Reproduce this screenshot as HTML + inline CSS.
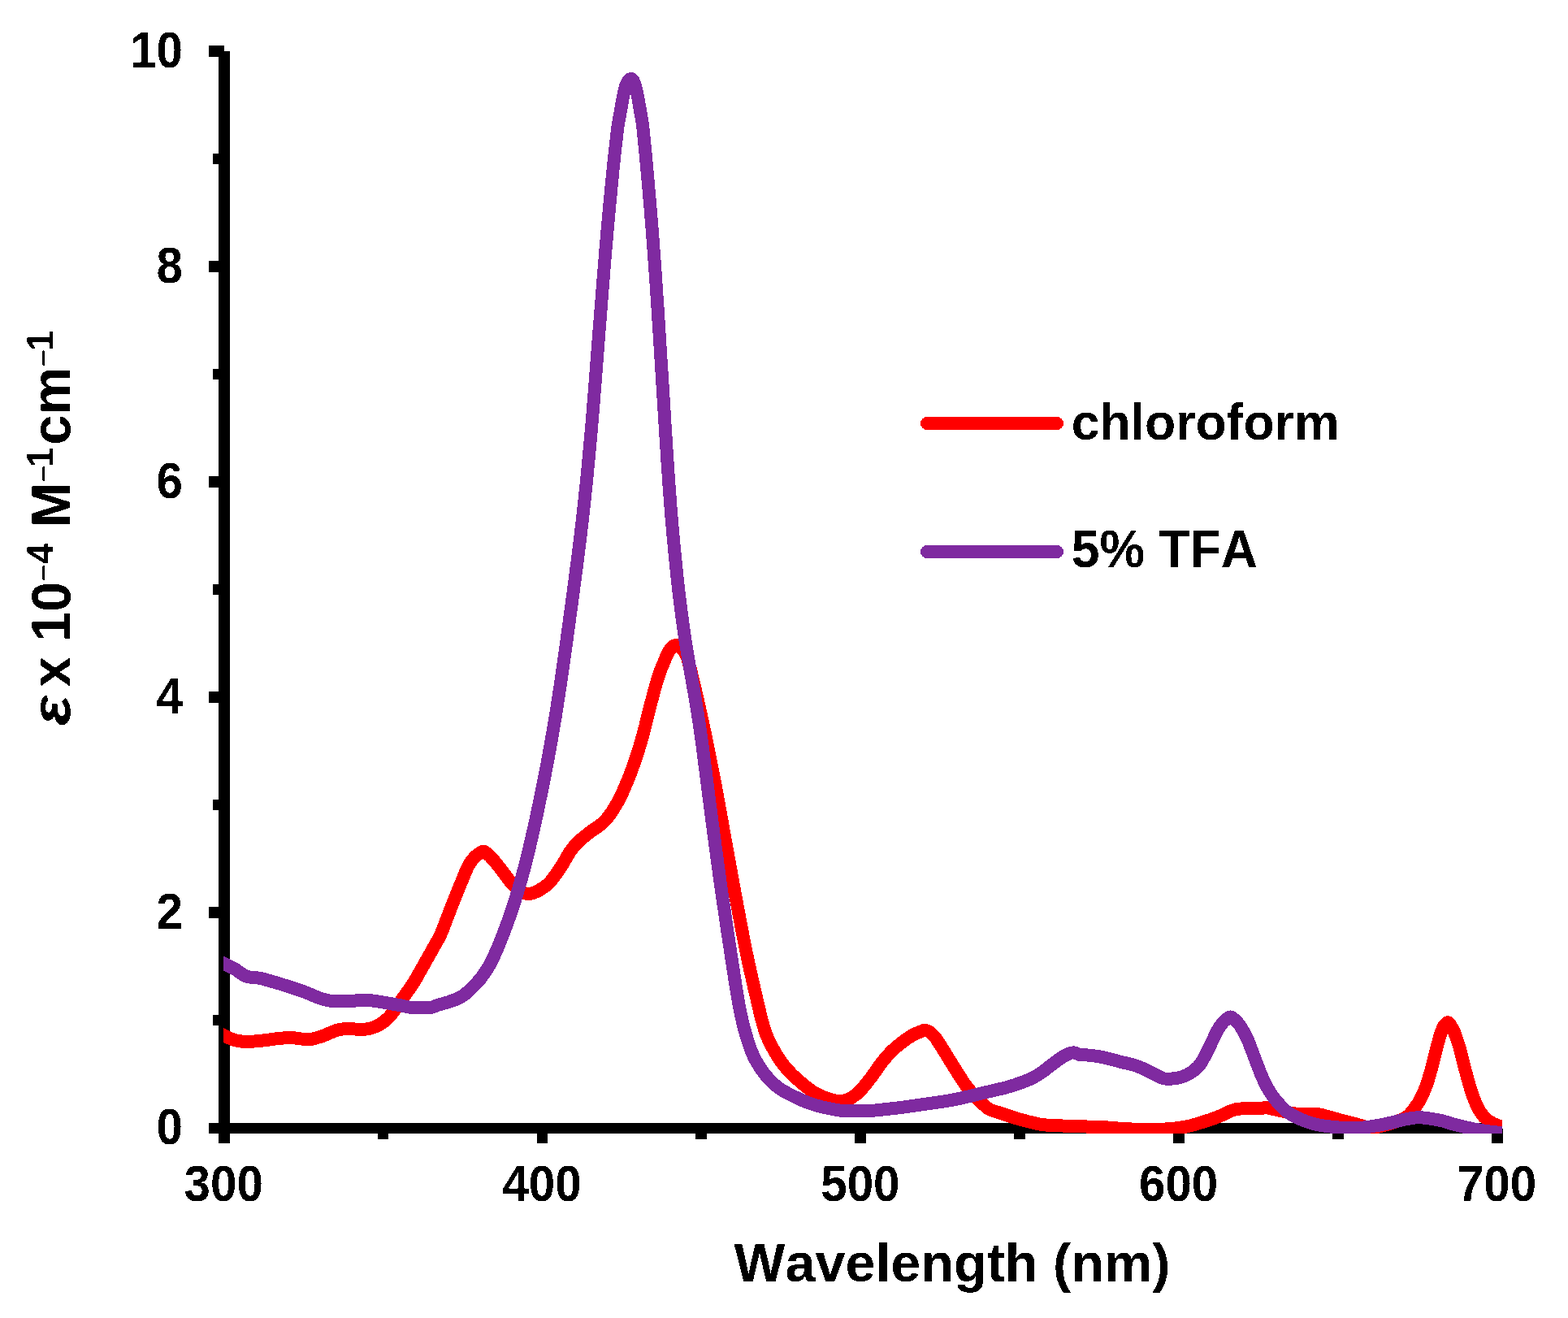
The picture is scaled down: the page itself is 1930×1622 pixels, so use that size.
<!DOCTYPE html>
<html lang="en">
<head>
<meta charset="utf-8">
<title>UV-vis absorption spectra</title>
<style>
html,body{margin:0;padding:0;background:#fff;}
body{width:1930px;height:1622px;}
svg{display:block;}
text{font-family:"Liberation Sans",sans-serif;font-weight:bold;fill:#000;font-kerning:none;font-variant-ligatures:none;}
.tk{font-size:58.33px;}
.lg{font-size:62.5px;}
.ti{font-size:66.67px;}
</style>
</head>
<body>
<svg width="1930" height="1622" viewBox="0 0 1930 1622">
<rect width="1930" height="1622" fill="#fff"/>
<defs><filter id="crisp" x="0" y="0" width="1930" height="1622" filterUnits="userSpaceOnUse" color-interpolation-filters="sRGB"><feComponentTransfer><feFuncA type="discrete" tableValues="0 1"/></feComponentTransfer></filter></defs>
<defs><clipPath id="plot"><rect x="275.0" y="0" width="1574.0" height="1395.0"/></clipPath></defs>
<g fill="#000" shape-rendering="crispEdges">
<rect x="269.00" y="63.00" width="14.00" height="1344.00"/>
<rect x="257.00" y="1382.00" width="1586.00" height="13.00"/>
<rect x="262.00" y="1249.00" width="14.00" height="13.00"/>
<rect x="257.00" y="1116.00" width="19.00" height="14.00"/>
<rect x="262.00" y="984.00" width="14.00" height="13.00"/>
<rect x="257.00" y="851.00" width="19.00" height="14.00"/>
<rect x="262.00" y="719.00" width="14.00" height="13.00"/>
<rect x="257.00" y="586.00" width="19.00" height="14.00"/>
<rect x="262.00" y="454.00" width="14.00" height="13.00"/>
<rect x="257.00" y="321.00" width="19.00" height="14.00"/>
<rect x="262.00" y="189.00" width="14.00" height="13.00"/>
<rect x="257.00" y="56.00" width="19.00" height="14.00"/>
<rect x="465.00" y="1388.50" width="13.00" height="13.50"/>
<rect x="661.00" y="1388.50" width="13.00" height="18.50"/>
<rect x="856.00" y="1388.50" width="14.00" height="13.50"/>
<rect x="1052.00" y="1388.50" width="14.00" height="18.50"/>
<rect x="1248.00" y="1388.50" width="14.00" height="13.50"/>
<rect x="1444.00" y="1388.50" width="14.00" height="18.50"/>
<rect x="1640.00" y="1388.50" width="14.00" height="13.50"/>
<rect x="1836.00" y="1388.50" width="14.00" height="18.50"/>
</g>
<g fill="none" stroke-width="16.0" stroke-linejoin="round" stroke-linecap="butt" clip-path="url(#plot)" shape-rendering="crispEdges">
<path stroke="#ff0000" d="M262.0,1267.0C264.0,1268.2 266.0,1269.4 268.0,1270.5C270.3,1271.7 272.6,1272.8 274.9,1274.0C278.2,1275.6 281.4,1277.2 284.9,1278.6C290.9,1281.0 297.2,1282.0 303.5,1281.9C309.7,1281.8 316.0,1281.4 322.2,1280.7C328.4,1280.0 334.6,1278.9 340.8,1278.2C346.6,1277.5 352.5,1277.1 358.3,1277.1C362.8,1277.1 367.4,1278.3 371.9,1278.6C376.0,1278.9 380.3,1279.2 384.4,1278.6C388.7,1277.9 392.7,1276.4 396.8,1275.0C403.2,1272.8 408.9,1269.5 415.5,1267.6C419.6,1266.4 423.7,1266.2 427.9,1266.0C434.1,1265.8 440.4,1267.3 446.6,1267.0C450.8,1266.8 454.9,1266.0 459.0,1264.6C463.5,1263.1 467.6,1261.1 471.4,1258.2C476.2,1254.5 480.5,1250.5 483.9,1245.7C487.7,1240.2 491.5,1234.8 495.2,1229.3C500.9,1221.0 507.2,1213.1 512.1,1204.4C516.8,1196.1 521.4,1187.8 526.1,1179.5C530.8,1171.2 535.4,1162.9 540.1,1154.6C544.5,1146.8 547.0,1138.1 550.3,1129.8C553.6,1121.5 556.7,1113.2 560.0,1104.9C563.3,1096.6 566.8,1088.3 570.2,1080.0C571.9,1075.8 573.7,1071.7 575.5,1067.5C577.4,1063.2 580.2,1059.4 583.4,1055.7C585.0,1053.9 586.9,1052.6 588.9,1051.2C591.1,1049.6 594.1,1046.8 596.1,1048.0C603.1,1052.0 609.0,1060.3 614.7,1067.4C619.1,1072.9 622.8,1078.5 627.2,1083.9C630.7,1088.2 633.9,1091.9 639.0,1095.5C643.0,1098.3 647.0,1100.1 651.0,1100.0C655.3,1099.9 659.6,1097.9 663.9,1095.4C669.5,1092.1 674.2,1089.1 678.0,1084.4C682.9,1078.4 687.1,1072.3 691.2,1065.9C695.3,1059.6 698.4,1052.8 702.7,1046.6C706.0,1041.9 709.8,1037.6 714.2,1033.8C718.1,1030.4 722.2,1027.2 726.3,1024.1C730.8,1020.7 735.6,1017.8 740.1,1014.2C745.5,1009.9 749.7,1004.4 753.5,998.5C758.4,991.0 762.7,983.3 766.3,975.2C770.8,964.9 775.2,954.6 778.9,944.0C781.7,936.0 784.5,928.1 786.9,920.0C789.5,911.4 791.9,902.9 794.1,894.2C795.2,889.8 796.1,885.5 797.2,881.1C800.1,869.5 803.2,858.0 806.3,846.5C808.1,840.1 810.0,833.7 812.2,827.4C814.2,821.8 816.6,816.4 818.9,810.9C820.3,807.5 821.6,804.2 823.6,800.9C825.5,797.7 828.8,794.6 831.6,794.0C834.2,793.4 837.6,796.2 840.0,799.0C843.4,802.8 845.4,806.4 846.5,810.8C848.1,817.1 849.8,823.3 851.3,829.6C852.9,836.2 854.5,842.9 856.0,849.5C857.8,856.9 859.5,864.4 861.1,871.8C862.8,879.3 864.4,886.7 866.0,894.2C867.9,902.8 869.7,911.4 871.4,920.0C872.8,926.7 874.1,933.3 875.4,940.0C877.4,949.9 879.4,959.9 881.2,969.8C884.3,986.4 887.3,1002.9 890.2,1019.5C893.2,1036.1 896.2,1052.7 899.2,1069.3C901.0,1079.5 902.9,1089.8 904.8,1100.0C907.8,1116.6 911.0,1133.2 914.2,1149.8C917.4,1166.4 920.8,1183.0 924.6,1199.5C927.1,1210.5 929.6,1221.4 932.2,1232.4C933.6,1238.2 934.9,1244.1 936.3,1249.9C937.9,1256.6 939.8,1263.2 941.9,1269.8C943.8,1275.6 946.5,1281.1 949.3,1286.5C953.1,1293.9 957.3,1301.0 962.2,1307.7C966.0,1312.8 970.0,1317.6 974.6,1322.0C978.6,1325.9 982.8,1329.6 987.1,1333.2C991.1,1336.6 995.2,1339.9 999.5,1342.9C1003.4,1345.6 1007.6,1347.6 1011.9,1349.5C1016.0,1351.3 1020.1,1352.5 1024.4,1353.7C1027.6,1354.6 1031.0,1355.1 1034.3,1355.1C1039.5,1355.0 1044.5,1353.3 1049.3,1350.2C1054.0,1347.2 1057.7,1344.0 1061.0,1340.0C1065.3,1334.9 1069.4,1329.8 1073.3,1324.5C1077.5,1318.8 1081.4,1312.8 1085.7,1307.1C1089.5,1302.1 1093.7,1297.4 1098.2,1293.0C1102.1,1289.2 1106.3,1285.8 1110.6,1282.5C1114.6,1279.5 1118.6,1276.6 1123.0,1274.1C1125.5,1272.6 1128.2,1271.6 1130.9,1270.4C1133.3,1269.3 1136.0,1267.8 1138.4,1267.9C1145.4,1268.2 1151.5,1276.6 1155.5,1283.1C1158.8,1288.5 1162.2,1293.8 1165.5,1299.2C1169.6,1305.8 1173.8,1312.5 1177.9,1319.1C1181.9,1325.4 1185.8,1331.8 1190.3,1337.8C1193.9,1342.6 1198.2,1346.9 1202.4,1351.2C1204.4,1353.3 1206.5,1355.3 1208.6,1357.4C1210.8,1359.6 1213.0,1361.7 1215.5,1363.7C1217.3,1365.2 1219.5,1366.1 1221.7,1366.8C1225.8,1368.1 1230.0,1369.3 1234.1,1370.7C1238.3,1372.1 1242.4,1373.5 1246.6,1374.9C1250.7,1376.2 1254.8,1377.4 1259.0,1378.6C1263.1,1379.7 1267.2,1380.7 1271.4,1381.7C1275.5,1382.7 1279.7,1383.7 1283.9,1384.2C1289.3,1384.8 1294.6,1385.0 1300.0,1385.2C1309.9,1385.6 1319.9,1386.0 1329.8,1386.3C1338.1,1386.6 1346.3,1386.6 1354.6,1386.9C1362.9,1387.2 1371.2,1388.3 1379.5,1388.8C1387.8,1389.3 1396.1,1389.8 1404.4,1390.0C1412.7,1390.2 1421.0,1390.1 1429.3,1389.8C1433.4,1389.6 1437.6,1389.4 1441.7,1389.0C1445.9,1388.6 1450.0,1388.1 1454.1,1387.5C1458.3,1386.9 1462.5,1386.1 1466.6,1385.0C1470.4,1383.9 1474.2,1382.8 1478.0,1381.6C1482.2,1380.3 1486.4,1379.0 1490.6,1377.6C1494.8,1376.2 1498.9,1374.5 1503.0,1372.8C1507.0,1371.2 1510.6,1369.0 1514.6,1367.4C1518.6,1365.8 1522.8,1364.6 1527.1,1364.5C1531.2,1364.4 1535.4,1364.4 1539.5,1364.3C1543.6,1364.2 1547.8,1364.1 1551.9,1363.9C1554.0,1363.8 1556.1,1363.1 1558.2,1363.2C1560.3,1363.3 1562.3,1363.8 1564.4,1364.3C1568.5,1365.2 1572.7,1366.2 1576.8,1367.1C1583.0,1368.5 1589.2,1369.8 1595.5,1370.7C1601.6,1371.6 1607.9,1370.4 1614.1,1370.7C1618.3,1370.9 1622.5,1370.9 1626.6,1372.0C1630.9,1373.1 1635.2,1374.3 1639.5,1375.5C1643.5,1376.6 1647.4,1377.7 1651.4,1378.8C1655.7,1380.0 1660.1,1380.9 1664.4,1382.0C1669.8,1383.4 1675.0,1385.1 1680.5,1386.6C1683.0,1387.3 1685.5,1387.8 1688.0,1387.8C1690.7,1387.8 1693.3,1387.3 1696.0,1386.7C1698.5,1386.2 1701.0,1385.7 1703.5,1385.0C1706.2,1384.3 1708.9,1383.4 1711.6,1382.6C1715.4,1381.4 1719.1,1380.1 1722.8,1378.8C1726.5,1377.5 1730.2,1375.9 1733.2,1373.2C1736.3,1370.4 1738.7,1367.1 1741.1,1363.8C1742.8,1361.5 1744.5,1359.2 1746.0,1356.8C1748.4,1352.8 1750.5,1348.7 1752.3,1344.4C1754.0,1340.3 1755.7,1336.2 1757.0,1332.0C1758.8,1326.2 1760.6,1320.4 1762.1,1314.5C1763.8,1307.9 1765.3,1301.2 1767.0,1294.6C1768.6,1288.4 1770.4,1282.2 1772.1,1276.0C1773.3,1271.7 1774.8,1267.6 1776.8,1263.5C1778.0,1261.0 1781.5,1257.0 1783.0,1258.6C1786.7,1262.6 1790.1,1269.7 1792.2,1276.0C1794.3,1282.2 1796.4,1288.3 1798.0,1294.6C1799.7,1301.2 1801.1,1307.9 1802.9,1314.5C1804.5,1320.3 1806.1,1326.2 1807.7,1332.0C1808.9,1336.2 1810.1,1340.3 1811.4,1344.4C1812.7,1348.6 1814.4,1352.7 1816.1,1356.8C1817.7,1360.7 1819.6,1364.3 1821.8,1368.0C1824.1,1371.8 1826.8,1375.1 1830.3,1378.0C1833.0,1380.2 1835.9,1381.8 1839.0,1383.2C1842.3,1384.7 1845.6,1386.0 1849.0,1386.9C1851.9,1387.7 1854.9,1388.2 1858.0,1388.5"/>
<path stroke="#7f2aa0" d="M262.0,1179.5C264.0,1180.4 266.0,1181.3 268.0,1182.2C270.3,1183.2 272.6,1184.3 274.9,1185.4C279.3,1187.5 283.7,1189.7 288.0,1191.9C293.1,1194.5 297.0,1199.1 302.3,1201.2C308.6,1203.7 315.7,1202.5 322.2,1204.3C330.5,1206.6 338.8,1208.9 347.1,1211.5C355.4,1214.1 363.7,1216.8 371.9,1219.6C378.3,1221.8 384.2,1224.9 390.6,1227.3C396.7,1229.5 402.9,1231.6 409.3,1231.9C417.6,1232.2 425.8,1231.9 434.1,1231.7C440.3,1231.5 446.6,1230.6 452.8,1230.9C459.0,1231.2 465.2,1232.5 471.4,1233.5C477.5,1234.5 483.7,1235.6 489.8,1236.7C495.0,1237.6 500.0,1239.0 505.3,1239.8C509.5,1240.4 513.8,1240.2 518.0,1240.2C522.5,1240.3 526.9,1240.5 531.4,1239.8C533.9,1239.4 535.9,1237.7 538.3,1237.0C542.8,1235.6 547.4,1234.6 551.9,1233.2C557.3,1231.5 562.5,1229.6 567.5,1226.8C572.2,1224.1 576.0,1220.5 579.9,1216.8C584.0,1212.9 587.9,1208.9 591.4,1204.4C597.4,1196.6 602.7,1188.4 606.8,1179.5C610.6,1171.3 614.2,1163.0 617.4,1154.6C620.6,1146.4 623.8,1138.1 626.7,1129.8C629.6,1121.5 632.4,1113.3 634.9,1104.9C637.4,1096.6 639.9,1088.3 642.2,1080.0C643.2,1076.4 644.2,1072.9 645.1,1069.3C649.4,1052.8 653.4,1036.2 657.1,1019.5C660.8,1003.0 664.2,986.4 667.6,969.8C670.9,953.2 674.1,936.6 677.1,920.0C681.7,894.7 685.9,869.3 689.6,843.8C693.2,818.9 696.8,794.1 700.1,769.2C703.5,744.3 706.9,719.5 710.1,694.6C713.3,669.8 716.3,644.9 719.0,620.0C721.1,601.3 723.0,582.6 724.7,563.8C727.0,538.9 729.2,514.1 731.1,489.2C733.1,464.3 735.0,439.5 736.9,414.6C738.9,389.7 740.8,364.9 742.8,340.0C744.2,321.3 745.9,302.5 747.5,283.8C749.7,258.9 752.0,234.1 754.5,209.2C755.4,201.0 756.2,192.7 757.1,184.5C757.7,179.5 758.3,174.6 758.8,169.6C759.5,164.1 760.0,158.6 760.9,153.1C761.6,148.1 762.7,143.2 763.6,138.2C764.4,133.7 765.1,129.3 765.9,124.8C766.5,121.6 767.1,118.5 767.7,115.3C768.3,112.5 769.0,109.7 769.8,106.9C770.3,105.2 771.0,103.6 771.7,102.0C772.2,100.7 772.7,99.6 773.8,98.5C774.6,97.7 775.5,97.0 776.4,96.9C777.1,96.8 777.9,97.3 778.6,98.0C779.7,99.1 780.1,100.2 780.5,101.4C781.2,103.2 781.8,105.0 782.3,106.8C783.0,109.6 783.7,112.4 784.3,115.3C784.9,118.5 785.5,121.6 786.1,124.8C786.9,129.3 787.6,133.7 788.4,138.2C789.2,143.2 790.2,148.1 790.9,153.1C791.6,158.6 792.0,164.1 792.6,169.6C793.1,174.6 793.6,179.5 794.1,184.5C794.9,192.7 795.7,201.0 796.4,209.2C798.7,234.1 800.8,258.9 802.8,283.8C804.2,302.5 805.6,321.3 806.9,340.0C808.6,364.9 810.3,389.7 811.8,414.6C813.4,439.5 814.9,464.3 816.5,489.2C818.0,514.1 819.6,538.9 821.2,563.8C822.4,582.5 823.8,601.3 825.2,620.0C827.1,644.9 829.4,669.8 831.9,694.6C833.4,709.8 835.1,724.9 836.9,740.0C838.1,749.7 839.4,759.5 840.8,769.2C842.2,779.5 843.7,789.8 845.4,800.0C846.8,808.3 848.2,816.6 849.6,824.9C851.1,833.2 852.5,841.4 854.0,849.7C855.4,858.0 856.8,866.3 858.2,874.6C859.5,883.1 860.8,891.5 862.0,900.0C863.0,906.7 863.9,913.3 864.8,920.0C866.9,936.6 869.0,953.2 871.2,969.8C873.3,986.4 875.4,1002.9 877.6,1019.5C879.8,1036.1 882.0,1052.7 884.3,1069.3C885.7,1079.5 887.2,1089.8 888.6,1100.0C891.0,1116.6 893.4,1133.2 895.9,1149.8C898.4,1166.4 901.0,1182.9 903.5,1199.5C905.2,1210.5 907.0,1221.4 908.8,1232.4C910.2,1240.8 912.0,1249.0 913.9,1257.3C915.8,1265.7 918.3,1273.9 920.9,1282.2C922.8,1288.4 925.0,1294.5 927.8,1300.4C930.5,1306.1 933.9,1311.3 937.4,1316.5C939.1,1319.1 940.9,1321.5 942.9,1323.9C946.3,1328.1 950.0,1331.9 954.2,1335.4C957.8,1338.5 961.7,1341.2 965.8,1343.5C968.7,1345.1 971.6,1346.6 974.6,1348.1C978.7,1350.1 982.9,1352.1 987.1,1354.0C991.2,1355.8 995.3,1357.3 999.5,1358.7C1003.6,1360.1 1007.7,1361.4 1011.9,1362.4C1016.0,1363.3 1020.2,1364.1 1024.4,1364.9C1028.5,1365.7 1032.6,1366.5 1036.8,1367.0C1043.0,1367.7 1049.3,1367.5 1055.5,1367.4C1061.7,1367.3 1067.9,1367.4 1074.1,1366.8C1078.3,1366.4 1082.4,1366.0 1086.6,1365.5C1094.9,1364.6 1103.2,1363.8 1111.4,1362.7C1119.1,1361.7 1126.9,1360.4 1134.6,1359.3C1142.9,1358.1 1151.2,1357.0 1159.5,1355.8C1167.9,1354.6 1176.2,1353.1 1184.4,1351.2C1192.7,1349.3 1201.0,1347.2 1209.3,1345.2C1217.6,1343.2 1225.8,1341.4 1234.1,1339.4C1238.3,1338.4 1242.5,1337.2 1246.6,1335.9C1250.8,1334.6 1254.9,1333.1 1259.0,1331.6C1263.2,1330.0 1267.4,1328.3 1271.4,1326.3C1275.8,1324.1 1280.0,1321.5 1283.9,1318.5C1286.8,1316.4 1289.6,1314.2 1292.4,1312.0C1296.5,1308.9 1300.7,1305.8 1304.9,1302.7C1308.0,1300.4 1311.2,1298.7 1314.8,1297.0C1317.0,1295.9 1319.4,1295.3 1321.7,1295.4C1324.4,1295.5 1327.0,1297.9 1329.8,1298.1C1332.2,1298.3 1334.7,1298.2 1337.2,1298.4C1343.0,1299.0 1348.9,1299.4 1354.6,1300.6C1363.0,1302.4 1371.2,1304.6 1379.5,1306.8C1387.9,1309.0 1396.6,1310.2 1404.4,1313.9C1408.6,1315.9 1412.7,1318.0 1416.8,1320.1C1421.0,1322.2 1425.1,1324.2 1429.3,1326.3C1433.1,1328.1 1437.6,1327.8 1441.7,1327.6C1445.8,1327.4 1450.0,1326.8 1454.1,1325.5C1458.6,1324.1 1462.7,1322.3 1466.6,1319.5C1471.6,1316.0 1476.0,1312.2 1479.0,1307.1C1481.4,1303.0 1483.6,1298.9 1485.7,1294.6C1487.7,1290.5 1489.7,1286.3 1491.7,1282.2C1493.7,1278.1 1495.7,1273.9 1497.7,1269.8C1499.4,1266.2 1501.7,1263.0 1504.1,1259.8C1505.7,1257.6 1507.6,1256.0 1509.7,1254.2C1511.3,1252.8 1513.6,1250.9 1515.2,1251.6C1521.5,1254.5 1527.0,1262.6 1530.9,1269.8C1533.1,1273.9 1535.3,1277.9 1536.9,1282.2C1538.5,1286.3 1540.0,1290.5 1541.6,1294.6C1543.2,1298.8 1544.7,1302.9 1546.3,1307.1C1547.9,1311.2 1549.5,1315.4 1551.1,1319.5C1552.7,1323.7 1554.6,1327.8 1556.5,1331.9C1558.5,1336.2 1560.8,1340.3 1563.4,1344.4C1567.6,1351.0 1572.5,1356.8 1577.9,1362.5C1580.2,1365.0 1582.7,1367.2 1585.5,1369.1C1589.7,1372.0 1594.1,1374.4 1598.8,1376.5C1603.2,1378.5 1607.7,1380.3 1612.3,1381.7C1616.6,1383.0 1620.9,1384.2 1625.3,1384.9C1630.2,1385.7 1635.1,1386.3 1640.0,1386.8C1648.3,1387.7 1656.6,1388.5 1664.9,1388.5C1670.3,1388.5 1675.6,1387.9 1681.0,1387.2C1686.0,1386.6 1691.0,1385.9 1696.0,1385.0C1702.2,1383.8 1708.4,1382.5 1714.6,1381.1C1718.8,1380.1 1722.9,1379.0 1727.1,1378.0C1731.2,1377.1 1735.3,1376.4 1739.5,1375.8C1742.8,1375.3 1746.2,1375.1 1749.5,1375.3C1754.5,1375.7 1759.4,1376.4 1764.4,1377.3C1768.6,1378.0 1772.7,1378.7 1776.8,1379.8C1781.0,1380.9 1785.1,1382.5 1789.3,1383.6C1793.4,1384.7 1797.5,1385.7 1801.7,1386.7C1805.8,1387.7 1810.0,1388.6 1814.1,1389.4C1818.2,1390.2 1822.4,1391.0 1826.6,1391.6C1830.7,1392.2 1834.9,1392.7 1839.0,1393.1C1842.3,1393.5 1845.7,1393.8 1849.0,1394.1C1852.0,1394.4 1855.0,1394.6 1858.0,1394.8"/>
</g>
<g fill="none" stroke-width="16" stroke-linecap="round" shape-rendering="crispEdges">
<path stroke="#ff0000" d="M1141.0,521.0H1301"/>
<path stroke="#7f2aa0" d="M1141.0,679.0H1301"/>
</g>
<g filter="url(#crisp)">
<text class="lg" text-anchor="start" transform="translate(1318.70,540.60) scale(1,1.02)">chloroform</text>
<text class="lg" text-anchor="start" transform="translate(1318.70,697.90) scale(1,1.045)">5% TFA</text>
<text class="tk" text-anchor="end" transform="translate(225.00,1408.00) scale(1.0,1.07)">0</text>
<text class="tk" text-anchor="end" transform="translate(225.00,1142.90) scale(1.0,1.07)">2</text>
<text class="tk" text-anchor="end" transform="translate(225.00,877.80) scale(1.0,1.07)">4</text>
<text class="tk" text-anchor="end" transform="translate(225.00,612.70) scale(1.0,1.07)">6</text>
<text class="tk" text-anchor="end" transform="translate(225.00,347.60) scale(1.0,1.07)">8</text>
<text class="tk" text-anchor="end" transform="translate(225.00,82.50) scale(1.0,1.07)">10</text>
<text class="tk" text-anchor="middle" transform="translate(275.25,1477.90) scale(1.0,1.07)">300</text>
<text class="tk" text-anchor="middle" transform="translate(667.05,1477.90) scale(1.0,1.07)">400</text>
<text class="tk" text-anchor="middle" transform="translate(1058.85,1477.90) scale(1.0,1.07)">500</text>
<text class="tk" text-anchor="middle" transform="translate(1450.65,1477.90) scale(1.0,1.07)">600</text>
<text class="tk" text-anchor="middle" transform="translate(1842.45,1477.90) scale(1.0,1.07)">700</text>
<text class="ti" text-anchor="middle" transform="translate(1172.00,1577.00) scale(1,1)">Wavelength (nm)</text>
<text class="ti" xml:space="preserve" transform="translate(86.0,891.6) rotate(-90) scale(1,1.025)"><tspan x="-1.40" y="0.00" font-style="italic" textLength="37.60" lengthAdjust="spacingAndGlyphs">ε</tspan><tspan x="27.70" y="0.00"> x </tspan><tspan x="101.80" y="0.00">10</tspan><tspan x="175.40" y="-19.50" font-size="37.8" font-weight="normal">−</tspan><tspan x="197.70" y="-19.80" font-size="44.67">4</tspan><tspan x="223.90" y="0.00"> M</tspan><tspan x="297.50" y="-19.50" font-size="37.8" font-weight="normal">−</tspan><tspan x="316.60" y="-19.80" font-size="44.67">1</tspan><tspan x="343.90" y="0.00">cm</tspan><tspan x="440.00" y="-19.50" font-size="37.8" font-weight="normal">−</tspan><tspan x="459.80" y="-19.80" font-size="44.67">1</tspan></text>
</g>
</svg>
</body>
</html>
